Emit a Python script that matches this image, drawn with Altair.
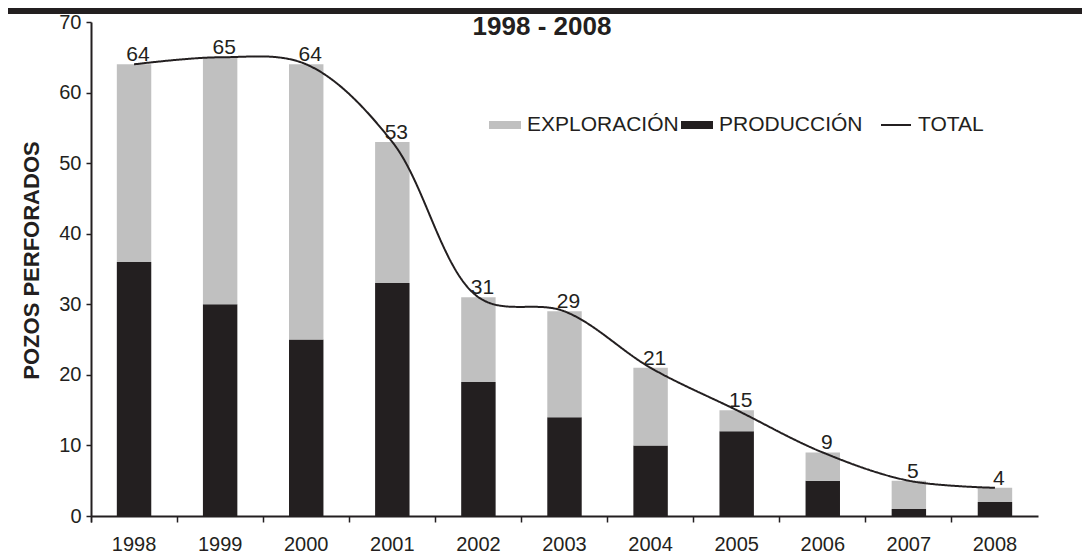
import altair as alt
import pandas as pd

years = ["1998", "1999", "2000", "2001", "2002", "2003", "2004", "2005", "2006", "2007", "2008"]
produccion = [36, 30, 25, 33, 19, 14, 10, 12, 5, 1, 2]
exploracion = [28, 35, 39, 20, 12, 15, 11, 3, 4, 4, 2]
total = [64, 65, 64, 53, 31, 29, 21, 15, 9, 5, 4]
bar_series = ["EXPLORACIÓN", "PRODUCCIÓN"]
line_series = ["TOTAL"]
bar_colors = ["#c0c0c0", "#231f20"]
y_ticks = [0, 10, 20, 30, 40, 50, 60, 70]
title_text = "1998 - 2008"
y_title = "POZOS PERFORADOS"

FONT = "Liberation Sans"
INK = "#231f20"

bars_df = pd.DataFrame({
    "year": years + years,
    "serie": [bar_series[1]] * len(years) + [bar_series[0]] * len(years),
    "value": produccion + exploracion,
    "order": [0] * len(years) + [1] * len(years),
})
total_df = pd.DataFrame({"year": years, "linea": [line_series[0]] * len(years), "total": total})
title_df = pd.DataFrame({"t": [title_text]})

x_axis = alt.Axis(
    title=None, labelAngle=0, bandPosition=0, tickExtra=True, labelFontSize=20, labelFont=FONT,
    labelColor=INK, labelPadding=12, tickSize=6, tickWidth=1.5, tickColor=INK,
    domainColor=INK, domainWidth=2,
)
x_scale = alt.Scale(paddingInner=0, paddingOuter=0)

bar_legend = alt.Legend(
    title=None, orient="none", legendX=398, legendY=87, direction="horizontal",
    symbolType="M-1,-0.25H1V0.25H-1Z", symbolSize=1024, symbolStrokeWidth=0,
    labelFontSize=21, labelFont=FONT, labelColor=INK, columnPadding=2, labelOffset=6,
    padding=0, symbolOpacity=1,
)

line_legend = alt.Legend(
    title=None, orient="none", legendX=789, legendY=87, direction="horizontal",
    symbolType="stroke", symbolSize=900, symbolStrokeWidth=2, symbolStrokeColor=INK,
    labelFontSize=21, labelFont=FONT, labelColor=INK, labelOffset=6, padding=0,
    symbolOpacity=1,
)

y_axis = alt.Axis(
    values=y_ticks, title=y_title, titleFont=FONT, titleFontSize=22, titleFontWeight="bold",
    titleColor=INK, titleX=-53, titleY=238, titleAngle=-90, titleBaseline="alphabetic",
    titleAlign="center", labelFontSize=20, labelFont=FONT, labelColor=INK, labelPadding=5,
    tickSize=5, tickWidth=1.5, tickColor=INK, domainColor=INK, domainWidth=2, grid=False,
)

bars = alt.Chart(bars_df).mark_bar(width=alt.RelativeBandSize(0.4)).encode(
    x=alt.X("year:N", sort=years, scale=x_scale, axis=x_axis),
    y=alt.Y("value:Q", stack="zero", scale=alt.Scale(domain=[0, 70], nice=False), axis=y_axis),
    color=alt.Color("serie:N", scale=alt.Scale(domain=bar_series, range=bar_colors), legend=bar_legend),
    order=alt.Order("order:Q"),
)

line = alt.Chart(total_df).mark_line(interpolate="catmull-rom", strokeWidth=2, color=INK).encode(
    x=alt.X("year:N", sort=years, scale=x_scale, axis=x_axis),
    y=alt.Y("total:Q", axis=y_axis),
    strokeDash=alt.StrokeDash("linea:N", scale=alt.Scale(domain=line_series, range=[[1, 0]]), legend=line_legend),
)

labels = alt.Chart(total_df).mark_text(
    baseline="alphabetic", dy=-3, dx=4, fontSize=21, font=FONT, color=INK
).encode(
    x=alt.X("year:N", sort=years, scale=x_scale, axis=x_axis),
    y=alt.Y("total:Q", axis=y_axis),
    text=alt.Text("total:Q"),
)

band = alt.Chart(title_df).mark_rect(color=INK).encode(
    x=alt.value(-83), x2=alt.value(991), y=alt.value(-14), y2=alt.value(-8)
)

title = alt.Chart(title_df).mark_text(
    fontSize=26, fontWeight="bold", font=FONT, color=INK, baseline="alphabetic", align="center"
).encode(x=alt.value(451), y=alt.value(13), text="t:N")

chart = alt.layer(band, bars, line, labels, title).properties(
    width=947, height=494,
    autosize=alt.AutoSizeParams(type="none"),
    padding={"left": 83, "top": 14, "right": 44, "bottom": 40},
).configure_view(stroke=None)

chart.save("out.html", embed_options={"renderer": "svg", "actions": False})
